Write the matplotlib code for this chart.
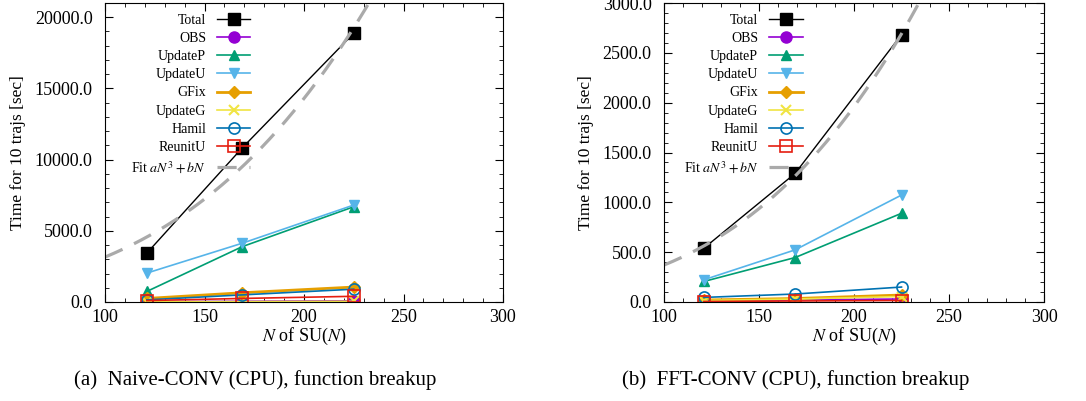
import matplotlib
import matplotlib.pyplot as plt
import numpy as np
from matplotlib.ticker import FormatStrFormatter, MultipleLocator

matplotlib.use("Agg")

plt.rcParams["font.family"] = ["Liberation Serif", "DejaVu Serif"]
plt.rcParams["mathtext.fontset"] = "stix"

N = [121, 169, 225]
SERIES = ["Total", "OBS", "UpdateP", "UpdateU", "GFix", "UpdateG", "Hamil", "ReunitU"]

# (a) Naive-CONV
naive = {
    "Total": [3430, 10830, 18880],
    "OBS": [20, 50, 80],
    "UpdateP": [740, 3890, 6690],
    "UpdateU": [2030, 4130, 6810],
    "GFix": [250, 650, 1050],
    "UpdateG": [10, 30, 50],
    "Hamil": [150, 500, 900],
    "ReunitU": [100, 250, 400],
}

# (b) FFT-CONV
fft = {
    "Total": [540, 1290, 2683],
    "OBS": [10, 20, 30],
    "UpdateP": [206, 446, 890],
    "UpdateU": [223, 523, 1073],
    "GFix": [20, 35, 70],
    "UpdateG": [15, 30, 55],
    "Hamil": [46, 80, 150],
    "ReunitU": [5, 10, 15],
}

STYLE = {
    "Total": dict(color="black", marker="s", ms=8, mfc="black", lw=1.0),
    "OBS": dict(color="#9400D3", marker="o", ms=8, mfc="#9400D3", lw=1.2),
    "UpdateP": dict(color="#009E73", marker="^", ms=7, mfc="#009E73", lw=1.2),
    "UpdateU": dict(color="#56B4E9", marker="v", ms=7, mfc="#56B4E9", lw=1.2),
    "GFix": dict(color="#E69F00", marker="D", ms=6, mfc="#E69F00", lw=2.0),
    "UpdateG": dict(color="#F0E442", marker="x", ms=7, mew=1.5, lw=1.2),
    "Hamil": dict(color="#0072B2", marker="o", ms=8, mfc="none", mew=1.2, lw=1.2),
    "ReunitU": dict(color="#E51E10", marker="s", ms=8, mfc="none", mew=1.2, lw=1.2),
}


def draw(ax, data, ymax, major, minor):
    for name in SERIES:
        ax.plot(N, data[name], label=name, **STYLE[name])

    # least-squares fit a N^3 + b N on Total
    n = np.array(N, dtype=float)
    A = np.column_stack([n ** 3, n])
    (a, b), *_ = np.linalg.lstsq(A, np.array(data["Total"], dtype=float), rcond=None)
    xs = np.linspace(100, 300, 400)
    ax.plot(xs, a * xs ** 3 + b * xs, color="#aaaaaa", ls=(0, (6, 4)), lw=2.3,
            label=r"Fit $aN^3+bN$")

    ax.set_xlim(100, 300)
    ax.set_ylim(0, ymax)
    ax.xaxis.set_major_locator(MultipleLocator(50))
    ax.xaxis.set_minor_locator(MultipleLocator(10))
    ax.yaxis.set_major_locator(MultipleLocator(major))
    ax.yaxis.set_minor_locator(MultipleLocator(minor))
    ax.yaxis.set_major_formatter(FormatStrFormatter("%.1f"))
    ax.tick_params(which="both", direction="in", top=True, right=True, labelsize=13)
    ax.tick_params(which="major", length=6)
    ax.tick_params(which="minor", length=3)
    ax.tick_params(axis="y", which="major", pad=9)
    ax.tick_params(axis="x", which="major", pad=5)
    ax.set_xlabel(r"$N$ of SU($N$)", fontsize=13, labelpad=0)
    ax.set_ylabel("Time for 10 trajs [sec]", fontsize=12.5, labelpad=6)
    ax.legend(loc="upper right", bbox_to_anchor=(0.383, 0.987), frameon=False,
              markerfirst=False, fontsize=10, handlelength=2.4,
              labelspacing=0.37, borderaxespad=0.1)


fig = plt.figure(figsize=(10.86, 4.01), dpi=100)
ax1 = fig.add_axes([105 / 1086, 1 - 302 / 401, 398 / 1086, 299 / 401])
ax2 = fig.add_axes([664 / 1086, 1 - 302 / 401, 380 / 1086, 299 / 401])

draw(ax1, naive, 21000, 5000, 1000)
draw(ax2, fft, 3000, 500, 100)

fig.text(255 / 1086, 1 - 380 / 401, "(a)  Naive-CONV (CPU), function breakup",
         ha="center", va="center", fontsize=15)
fig.text(796 / 1086, 1 - 380 / 401, "(b)  FFT-CONV (CPU), function breakup",
         ha="center", va="center", fontsize=15)

fig.savefig("out.png", dpi=100)
plt.close(fig)
